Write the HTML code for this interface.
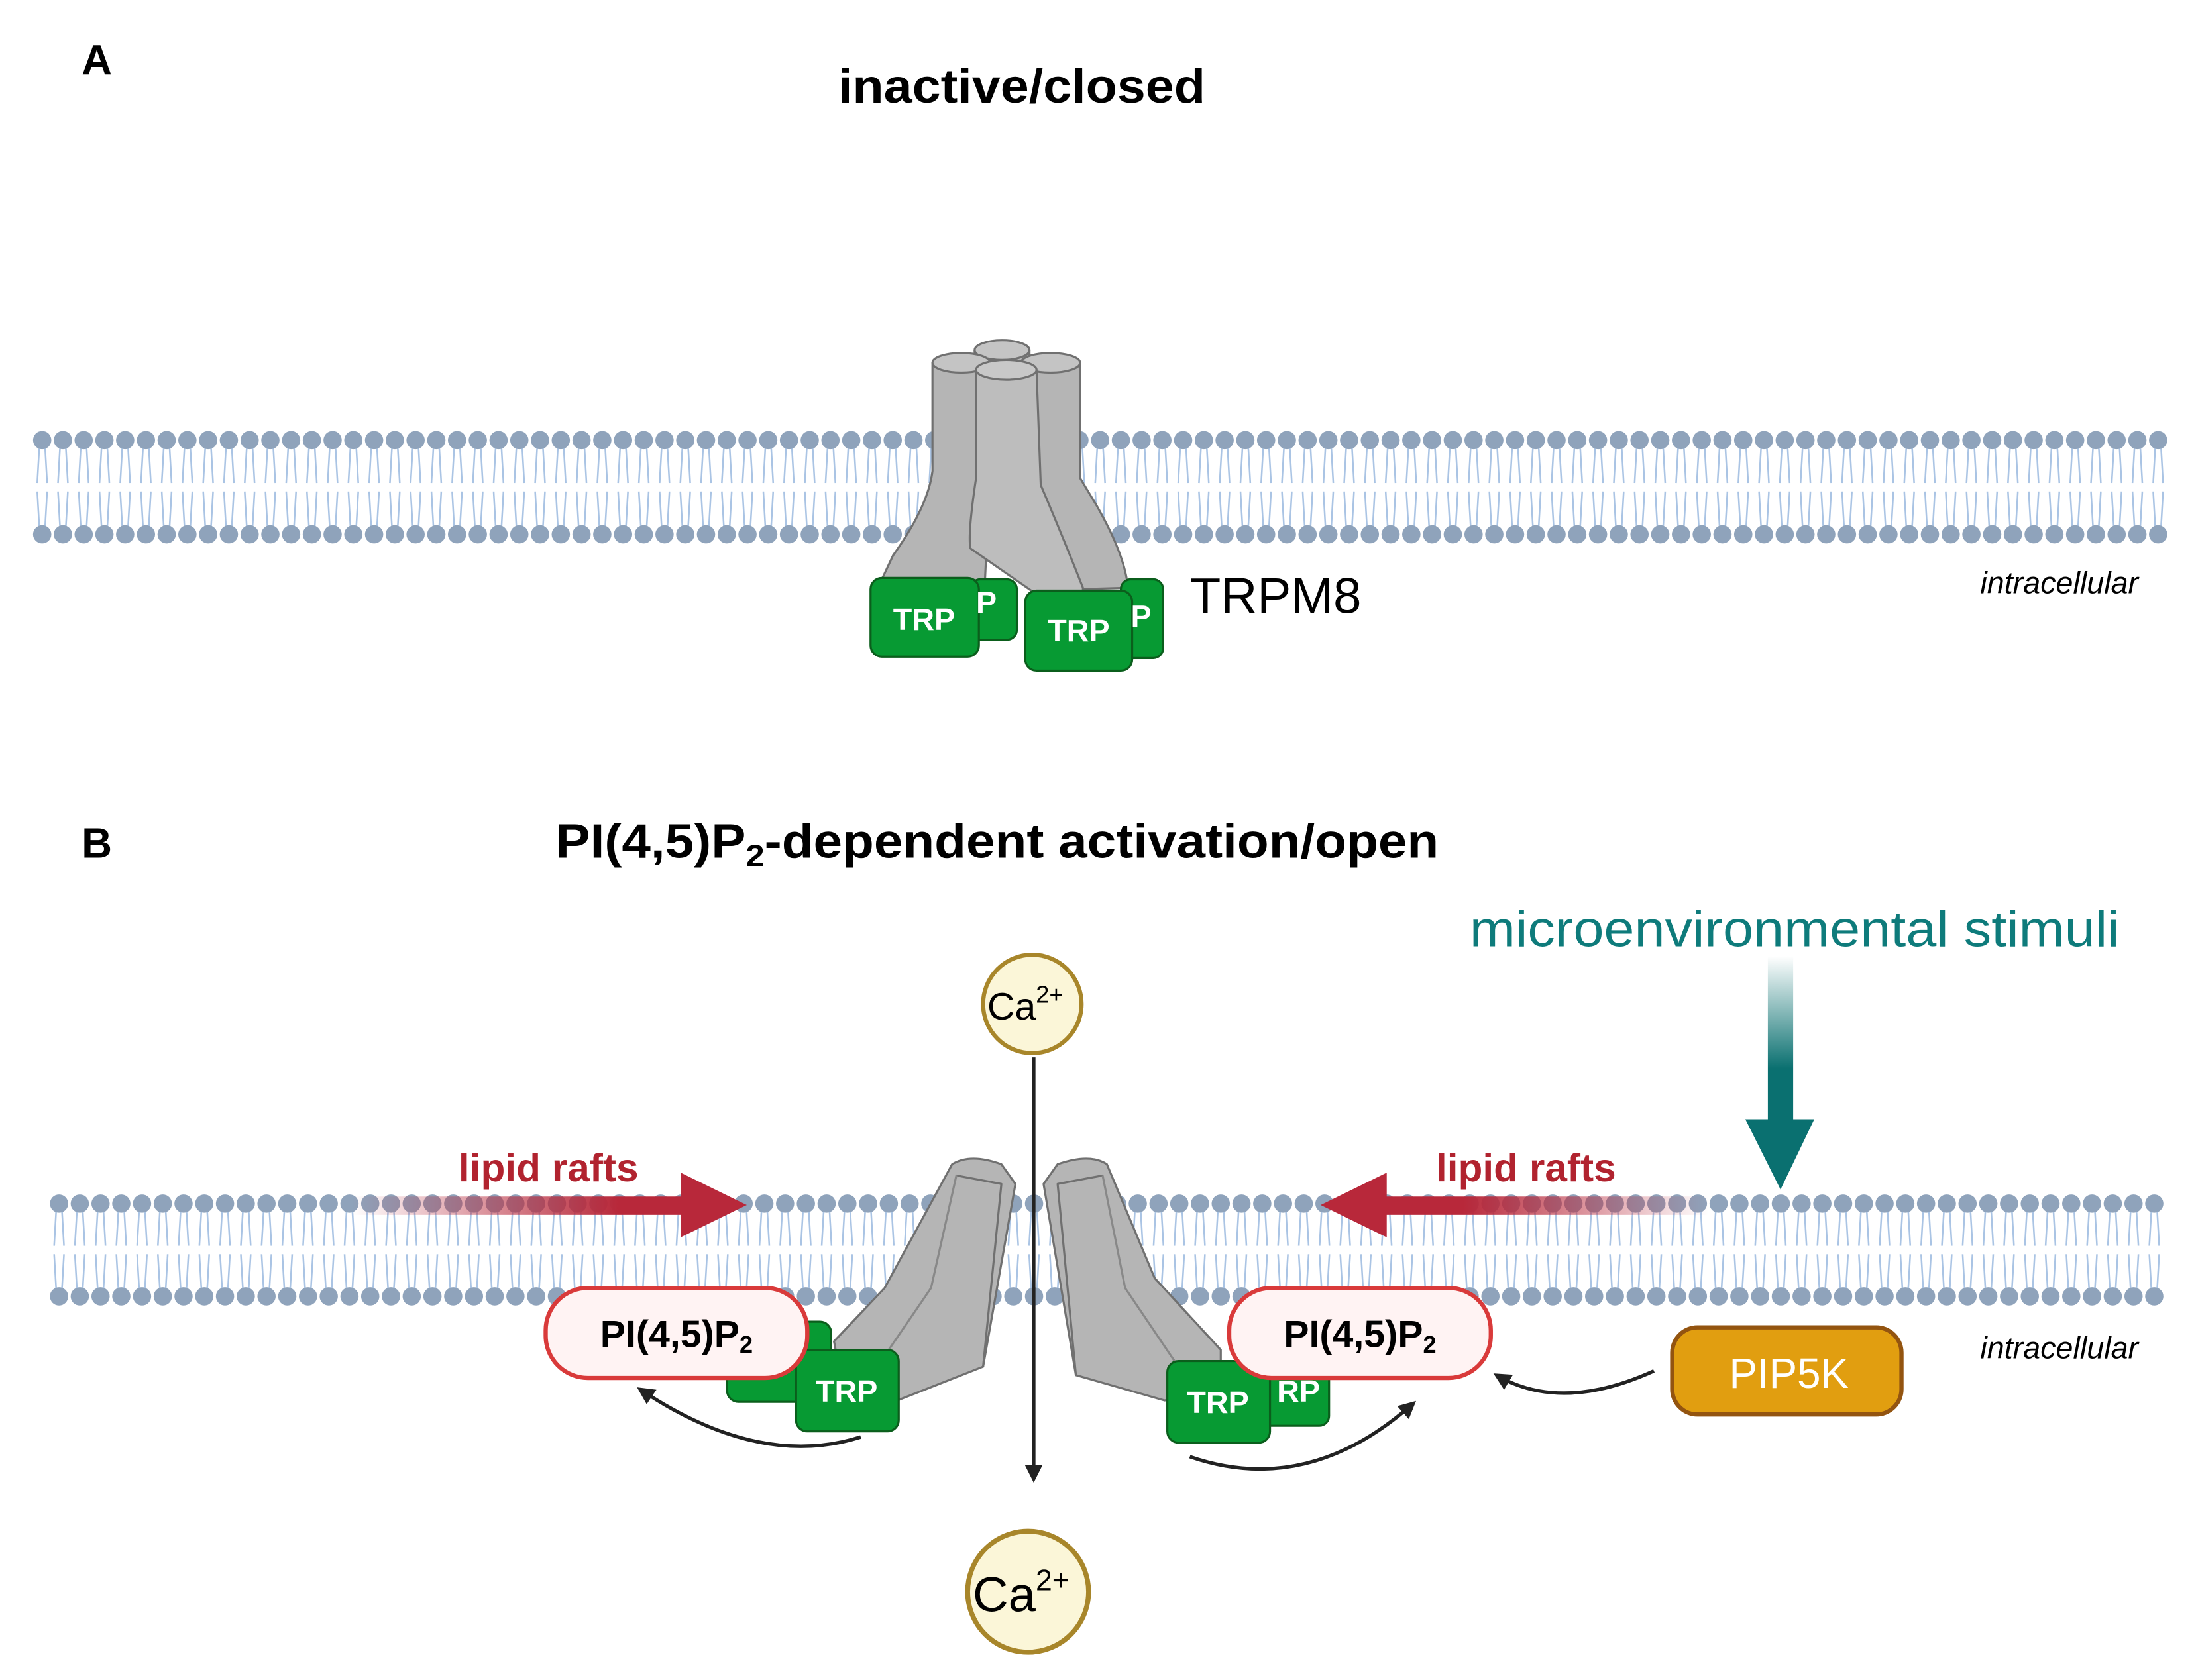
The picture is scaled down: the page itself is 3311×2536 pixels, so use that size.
<!DOCTYPE html>
<html><head><meta charset="utf-8"><style>html,body{margin:0;padding:0;background:#fff}svg{display:block}</style></head>
<body>
<svg id="s" xmlns="http://www.w3.org/2000/svg" width="3311" height="2536" viewBox="0 0 1560 1194.8" font-family="Liberation Sans, sans-serif">
<defs>
<linearGradient id="gL" x1="250" y1="0" x2="440" y2="0" gradientUnits="userSpaceOnUse"><stop offset="0" stop-color="#b8283a" stop-opacity="0"/><stop offset="1" stop-color="#b8283a"/></linearGradient>
<linearGradient id="gR" x1="1215" y1="0" x2="1040" y2="0" gradientUnits="userSpaceOnUse"><stop offset="0" stop-color="#b8283a" stop-opacity="0"/><stop offset="1" stop-color="#b8283a"/></linearGradient>
<linearGradient id="gT" x1="0" y1="680" x2="0" y2="760" gradientUnits="userSpaceOnUse"><stop offset="0" stop-color="#0a7070" stop-opacity="0"/><stop offset="1" stop-color="#0a7070"/></linearGradient>
<marker id="ah" viewBox="0 0 10 10" refX="8" refY="5" markerWidth="5" markerHeight="5" orient="auto-start-reverse"><path d="M0,0 L10,5 L0,10 z" fill="#222"/></marker>
</defs>
<g id="memA"></g>
<g id="memB"></g>

<text x="58" y="53" font-size="30" font-weight="bold">A</text>
<text x="596" y="73" font-size="34" font-weight="bold" textLength="261" lengthAdjust="spacingAndGlyphs">inactive/closed</text>
<text x="58" y="610" font-size="30" font-weight="bold">B</text>
<text x="395" y="610" font-size="34" font-weight="bold" textLength="628" lengthAdjust="spacingAndGlyphs">PI(4,5)P<tspan font-size="22" dy="6">2</tspan><tspan dy="-6">-dependent activation/open</tspan></text>

<!-- Channel A -->
<g stroke="#707070" stroke-width="1.5" fill="#b5b5b5" stroke-linejoin="round">
  <path d="M693,249 L693,300 L732,300 L732,249 Z"/><ellipse cx="712.5" cy="249" rx="19.5" ry="7" fill="#c4c4c4"/>
  <path d="M663,258 L663,335 Q660,360 635,395 L627,412 L700,420 L704,335 L704,258 Z"/><ellipse cx="683.5" cy="258" rx="20.5" ry="7" fill="#c4c4c4"/>
  <path d="M726,258 L726,340 L735,420 L802,418 Q800,395 780,360 L768,340 L768,258 Z"/><ellipse cx="747" cy="258" rx="21" ry="7" fill="#c4c4c4"/>
  <path d="M694,263 L694,340 Q688,380 690,390 L752,433 Q765,438 770,425 L770,418 Q755,380 740,345 L737,263 Z" fill="#bdbdbd"/><ellipse cx="715.5" cy="263" rx="21.5" ry="7" fill="#c8c8c8"/>
</g>
<g stroke="#0b5e1c" stroke-width="1.5" fill="#079a33">
  <rect x="690" y="412" width="33" height="43" rx="7"/>
  <rect x="797" y="412" width="30" height="56" rx="7"/>
  <rect x="619" y="411" width="77" height="56" rx="8"/>
  <rect x="729" y="420" width="76" height="57" rx="8"/>
</g>
<g fill="#fff" font-weight="bold" font-size="22">
  <text x="694" y="436">P</text><text x="804" y="446">P</text>
  <text x="657" y="448" text-anchor="middle">TRP</text><text x="767" y="456" text-anchor="middle">TRP</text>
</g>
<text x="846" y="436" font-size="36">TRPM8</text>
<text x="1408" y="422" font-size="22" font-style="italic">intracellular</text>

<!-- B -->
<text x="1045" y="673" font-size="36" fill="#0e7b7b" textLength="462" lengthAdjust="spacingAndGlyphs">microenvironmental stimuli</text>
<rect x="1257" y="680" width="18" height="120" fill="url(#gT)"/>
<path d="M1241,796 L1290,796 L1266,846 Z" fill="#0a7070"/>

<rect x="250" y="851" width="240" height="13" fill="url(#gL)"/>
<path d="M484,834 L531,857 L484,880 Z" fill="#b8283a"/>
<rect x="980" y="851" width="235" height="13" fill="url(#gR)"/>
<path d="M986,834 L939,857 L986,880 Z" fill="#b8283a"/>
<text x="326" y="840" font-size="28" font-weight="bold" fill="#b1232f" textLength="128" lengthAdjust="spacingAndGlyphs">lipid rafts</text>
<text x="1021" y="840" font-size="28" font-weight="bold" fill="#b1232f" textLength="128" lengthAdjust="spacingAndGlyphs">lipid rafts</text>

<g stroke="#0b5e1c" stroke-width="1.5" fill="#079a33">
  <rect x="517" y="940" width="74" height="57" rx="8"/>
  <rect x="895" y="960" width="50" height="54" rx="7"/>
</g>
<g stroke="#707070" stroke-width="1.5" fill="#b5b5b5" stroke-linejoin="round">
  <path d="M677,828 Q690,820 712,828 L722,842 L699,972 L638,996 L600,990 L593,954 L629,916 Z"/>
  <path d="M680,836 L712,842 L699,972" fill="none"/>
  <path d="M680,836 L662,916 L610,992" fill="none" stroke="#888"/>
  <path d="M787,828 Q775,820 752,828 L742,842 L765,978 L828,996 L868,990 L868,960 L821,909 Z"/>
  <path d="M784,836 L752,842 L765,978" fill="none"/>
  <path d="M784,836 L800,916 L850,990" fill="none" stroke="#888"/>
</g>
<g stroke="#0b5e1c" stroke-width="1.5" fill="#079a33">
  <rect x="566" y="960" width="73" height="58" rx="8"/>
  <rect x="830" y="968" width="73" height="58" rx="8"/>
</g>
<g fill="#fff" font-weight="bold" font-size="22">
  <text x="602" y="997" text-anchor="middle">TRP</text>
  <text x="866" y="1005" text-anchor="middle">TRP</text>
  <text x="908" y="997">RP</text>
</g>
<g stroke="#d93a3a" stroke-width="3" fill="#fff3f3">
  <rect x="388" y="916" width="186" height="64" rx="30"/>
  <rect x="874" y="916" width="186" height="64" rx="30"/>
</g>
<g font-weight="bold" font-size="27" text-anchor="middle">
  <text x="481" y="958">PI(4,5)P<tspan font-size="17" dy="4">2</tspan></text>
  <text x="967" y="958">PI(4,5)P<tspan font-size="17" dy="4">2</tspan></text>
</g>
<rect x="1189" y="944" width="163" height="62" rx="18" fill="#e19e10" stroke="#935410" stroke-width="3"/>
<text x="1272" y="987" font-size="30" fill="#fff" text-anchor="middle">PIP5K</text>
<text x="1408" y="966" font-size="22" font-style="italic">intracellular</text>

<g fill="none" stroke="#222" stroke-width="2.5" marker-end="url(#ah)">
  <path d="M612,1022 Q540,1045 455,988"/>
  <path d="M846,1036 Q930,1065 1005,998"/>
  <path d="M1176,975 Q1110,1005 1064,978"/>
</g>
<line x1="735" y1="752" x2="735" y2="1052" stroke="#222" stroke-width="2.5" marker-end="url(#ah)"/>
<circle cx="734" cy="714" r="35" fill="#fbf6d8" stroke="#a8862a" stroke-width="3"/>
<text x="729" y="725" font-size="27" text-anchor="middle">Ca<tspan font-size="17" dy="-12">2+</tspan></text>
<circle cx="731" cy="1132" r="43" fill="#fbf6d8" stroke="#a8862a" stroke-width="3.5"/>
<text x="726" y="1146" font-size="35" text-anchor="middle">Ca<tspan font-size="21" dy="-15">2+</tspan></text>
</svg>
<script>
function mem(id,x0,x1,yt,yb){
 var g=document.getElementById(id),h="";
 var mid=(yt+yb)/2;
 for(var x=x0;x<=x1;x+=14.75){
  h+='<path d="M'+(x-2)+','+(yt+4)+' L'+(x-3.5)+','+(mid-3)+' M'+(x+2)+','+(yt+4)+' L'+(x+3.5)+','+(mid-3)+' M'+(x-2)+','+(yb-4)+' L'+(x-3.5)+','+(mid+3)+' M'+(x+2)+','+(yb-4)+' L'+(x+3.5)+','+(mid+3)+'" stroke="#aac4e4" stroke-width="1.2" fill="none"/>';
 }
 for(var x=x0;x<=x1;x+=14.75){
  h+='<circle cx="'+x+'" cy="'+yt+'" r="6.5" fill="#8fa3bb"/><circle cx="'+x+'" cy="'+yb+'" r="6.5" fill="#8fa3bb"/>';
 }
 g.innerHTML=h;
}
mem("memA",30,1536,313,380);
mem("memB",42,1536,856,922);
</script>
</body></html>
